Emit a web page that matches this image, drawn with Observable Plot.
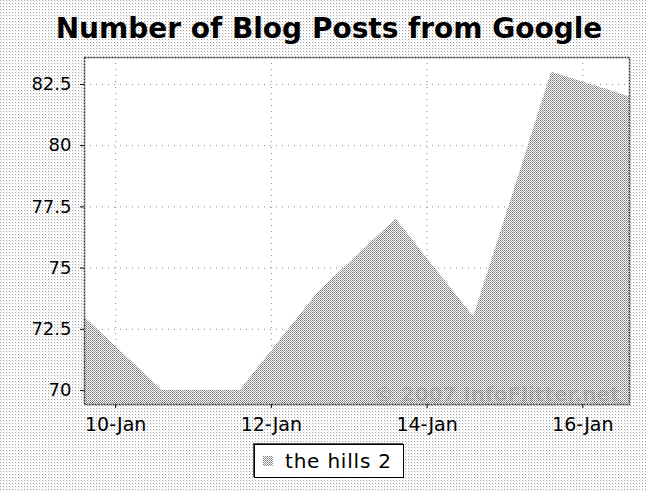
<!DOCTYPE html>
<html>
<head>
<meta charset="utf-8">
<script src="https://cdn.jsdelivr.net/npm/d3@7"></script>
<script src="https://cdn.jsdelivr.net/npm/@observablehq/plot@0.6"></script>
<style>
  html, body { margin: 0; padding: 0; }
  #page {
    position: relative; width: 646px; height: 491px; overflow: hidden;
    background-color: #fff;
    background-image: url("data:image/svg+xml;utf8,<svg xmlns='http://www.w3.org/2000/svg' width='3' height='3' shape-rendering='crispEdges'><rect width='3' height='3' fill='white'/><rect x='0' y='0' width='1' height='1' fill='%23a0a0a0'/><rect x='1' y='1' width='1' height='1' fill='%23e4e4e4'/></svg>");
    font-family: "DejaVu Sans", sans-serif;
  }
  #title {
    position: absolute; left: 0; width: 658px; top: 11px; text-align: center;
    font-size: 28px; font-weight: bold; color: #000; line-height: 36px;
  }
  #chart { position: absolute; left: 0; top: 50px; }
  #legend {
    position: absolute; left: 254px; top: 444px; width: 148px; height: 32px;
    background: #fff; border: 1px solid #000; box-shadow: -1px -1px 0 #555;
    font-size: 20px; line-height: 32px;
  }
  #legend .sw {
    position: absolute; left: 8px; top: 11px; width: 10px; height: 10px;
    background-image: url("data:image/svg+xml;utf8,<svg xmlns='http://www.w3.org/2000/svg' width='2' height='2' shape-rendering='crispEdges'><rect width='2' height='2' fill='white'/><rect x='0' y='0' width='1' height='1' fill='%23777'/><rect x='1' y='1' width='1' height='1' fill='%23999'/></svg>");
  }
  #legend .lab { position: absolute; left: 30px; top: 0; letter-spacing: 0.8px; }
</style>
</head>
<body>
<div id="page">
  <div id="title">Number of Blog Posts from Google</div>
  <div id="chart"></div>
  <div id="legend"><span class="sw"></span><span class="lab">the hills 2</span></div>
</div>
<script>
// Data
const dates = ["2007-01-09T14:24Z","2007-01-10T14:24Z","2007-01-11T14:24Z","2007-01-12T14:24Z",
               "2007-01-13T14:24Z","2007-01-14T14:24Z","2007-01-15T14:24Z","2007-01-16T14:24Z"];
const posts = [73, 70, 70, 74, 77, 73, 83, 82];
const seriesName = "the hills 2";
const yTicks = [70, 72.5, 75, 77.5, 80, 82.5];
const xTicks = ["2007-01-10","2007-01-12","2007-01-14","2007-01-16"];
const watermark = "© 2007 InfoFlitter.net";

const data = dates.map((d, i) => ({date: new Date(d), value: posts[i], series: seriesName}));
const xTickDates = xTicks.map(d => new Date(d + "T00:00Z"));
const fmt = d3.utcFormat("%d-%b");

const chart = Plot.plot({
  width: 646,
  height: 390,
  marginLeft: 84,
  marginRight: 17,
  marginTop: 7,
  marginBottom: 36,
  style: {background: "transparent", fontFamily: "DejaVu Sans, sans-serif", color: "#000"},
  x: {type: "utc", domain: d3.extent(data, d => d.date)},
  y: {domain: [69.43, 83.6]},
  marks: [
    Plot.frame({fill: "white", stroke: "none"}),
    Plot.gridX(xTickDates, {stroke: "#888", strokeOpacity: 1, strokeDasharray: "1,5"}),
    Plot.gridY(yTicks, {stroke: "#888", strokeOpacity: 1, strokeDasharray: "1,5"}),
    Plot.areaY(data, {x: "date", y1: 69.43, y2: "value", fill: "url(#areaPat)", fillOpacity: 1}),
    Plot.text([watermark], {frameAnchor: "bottom-right", text: d => d, dx: -10, dy: -4,
      fontSize: 20, fontWeight: "bold", fill: "#777", fillOpacity: 0.3}),
    Plot.axisX({ticks: xTickDates, tickFormat: fmt, tickSize: 4, tickPadding: 9, fontSize: 19, label: null}),
    Plot.axisY({ticks: yTicks, tickFormat: d => String(d), tickSize: 4, tickPadding: 9, fontSize: 18, label: null}),
    Plot.frame({stroke: "#333", strokeWidth: 1.5, strokeDasharray: "2,1"})
  ]
});

// pattern definition for the dithered area fill
const ns = "http://www.w3.org/2000/svg";
const defs = document.createElementNS(ns, "defs");
defs.innerHTML = `<pattern id="areaPat" patternUnits="userSpaceOnUse" width="2" height="2">
  <rect width="2" height="2" fill="#ffffff"/>
  <rect x="0" y="0" width="1" height="1" fill="#777"/>
  <rect x="1" y="1" width="1" height="1" fill="#999"/>
</pattern>`;
chart.insertBefore(defs, chart.firstChild);
document.getElementById("chart").appendChild(chart);
</script>
</body>
</html>
